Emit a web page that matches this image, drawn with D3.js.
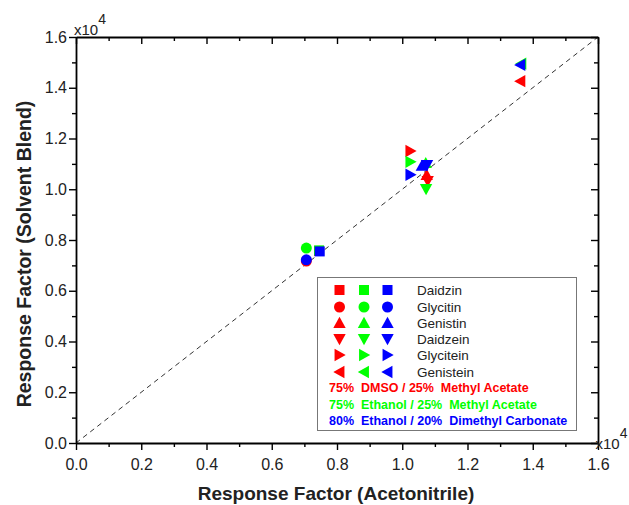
<!DOCTYPE html>
<html><head><meta charset="utf-8">
<script src="https://cdn.jsdelivr.net/npm/d3@7"></script>
<style>body{margin:0;background:#fff}svg{font-family:"Liberation Sans",Arial,sans-serif}</style>
</head><body><svg id="c" width="629" height="505"></svg>
<script>
const compounds = ["Daidzin","Glycitin","Genistin","Daidzein","Glycitein","Genistein"];
const symbols = ["square","circle","up","down","right","left"];
const solvents = ["75%  DMSO / 25%  Methyl Acetate","75%  Ethanol / 25%  Methyl Acetate","80%  Ethanol / 20%  Dimethyl Carbonate"];
const colors = ["#ff0000","#00ff00","#0000ff"];
// values in units of 1e4: [x (acetonitrile), y (solvent blend)] per compound
const redX = [0.745, 0.706, 1.075, 1.078, 1.025, 1.362];
const redY = [0.757, 0.717, 1.056, 1.033, 1.151, 1.426];
const greenX = [0.745, 0.706, 1.072, 1.073, 1.025, 1.365];
const greenY = [0.759, 0.768, 1.103, 1.001, 1.108, 1.495];
const blueX = [0.747, 0.706, 1.060, 1.076, 1.025, 1.362];
const blueY = [0.755, 0.722, 1.092, 1.096, 1.057, 1.490];
const ticks = [0,0.2,0.4,0.6,0.8,1.0,1.2,1.4,1.6];
const minorTicks = [0.1,0.3,0.5,0.7,0.9,1.1,1.3,1.5];

const svg = d3.select("#c");
const L=76,R=598,T=37,B=443;
const x = d3.scaleLinear().domain([0,1.6]).range([L,R]);
const y = d3.scaleLinear().domain([0,1.6]).range([B,T]);
const fmt = d3.format(".1f");
const FF = "Liberation Sans, Arial, sans-serif";

// diagonal
svg.append("line").attr("x1",x(0)).attr("y1",y(0)).attr("x2",x(1.6)).attr("y2",y(1.6))
  .attr("stroke","#333").attr("stroke-width",1).attr("stroke-dasharray","5,4");

function marker(g, sym, cx, cy, col){
  const s=6.2;
  let el;
  if(sym==="square") el=g.append("rect").attr("x",cx-5).attr("y",cy-5).attr("width",10).attr("height",10);
  else if(sym==="circle") el=g.append("circle").attr("cx",cx).attr("cy",cy).attr("r",5.5);
  else {
    let pts;
    if(sym==="up") pts=[[cx,cy-s],[cx-s,cy+s*0.8],[cx+s,cy+s*0.8]];
    if(sym==="down") pts=[[cx,cy+s],[cx-s,cy-s*0.8],[cx+s,cy-s*0.8]];
    if(sym==="right") pts=[[cx+s,cy],[cx-s*0.8,cy-s],[cx-s*0.8,cy+s]];
    if(sym==="left") pts=[[cx-s,cy],[cx+s*0.8,cy-s],[cx+s*0.8,cy+s]];
    el=g.append("polygon").attr("points",pts.map(p=>p.join(",")).join(" "));
  }
  el.attr("fill",col);
}
const series=[[redX,redY],[greenX,greenY],[blueX,blueY]];
const gm=svg.append("g");
series.forEach((s,si)=>{
  s[0].forEach((v,i)=>marker(gm,symbols[i],x(v),y(s[1][i]),colors[si]));
});

// axes
const gxb=svg.append("g").attr("transform",`translate(0,${B})`).call(d3.axisBottom(x).tickValues(ticks).tickFormat(fmt).tickSize(7).tickSizeOuter(0));
svg.append("g").attr("transform",`translate(0,${B})`).call(d3.axisBottom(x).tickValues(minorTicks).tickFormat("").tickSize(4)).select(".domain").remove();
svg.append("g").attr("transform",`translate(0,${T})`).call(d3.axisBottom(x).tickValues(ticks).tickFormat("").tickSize(7).tickSizeOuter(0));
svg.append("g").attr("transform",`translate(0,${T})`).call(d3.axisBottom(x).tickValues(minorTicks).tickFormat("").tickSize(4)).select(".domain").remove();
const gyl=svg.append("g").attr("transform",`translate(${L},0)`).call(d3.axisLeft(y).tickValues(ticks).tickFormat(fmt).tickSize(7).tickSizeOuter(0));
svg.append("g").attr("transform",`translate(${L},0)`).call(d3.axisLeft(y).tickValues(minorTicks).tickFormat("").tickSize(4)).select(".domain").remove();
svg.append("g").attr("transform",`translate(${R},0)`).call(d3.axisLeft(y).tickValues(ticks).tickFormat("").tickSize(7).tickSizeOuter(0));
svg.append("g").attr("transform",`translate(${R},0)`).call(d3.axisLeft(y).tickValues(minorTicks).tickFormat("").tickSize(4)).select(".domain").remove();
svg.selectAll(".domain").attr("stroke","#000").attr("stroke-width",1.8);
svg.selectAll(".tick line").attr("stroke","#000").attr("stroke-width",1.4);
gxb.selectAll("text").attr("font-size",16).attr("font-family",FF).attr("fill","#222").attr("y",12).attr("dy","0.95em");
gyl.selectAll("text").attr("font-size",16).attr("font-family",FF).attr("fill","#222").attr("x",-9);

// exponent labels
function expo(px,py){
  const t=svg.append("text").attr("x",px).attr("y",py).attr("font-size",15).attr("font-family",FF).attr("fill","#222");
  t.append("tspan").text("x10");
  t.append("tspan").attr("dy",-11).attr("font-size",14).text("4");
}
expo(74,35);
expo(595.5,449);

// titles
svg.append("text").attr("x",336).attr("y",500).attr("text-anchor","middle").attr("font-size",19).attr("font-family",FF).attr("font-weight","bold").attr("fill","#222").text("Response Factor (Acetonitrile)");
svg.append("text").attr("transform","translate(31,254) rotate(-90)").attr("text-anchor","middle").attr("font-size",19.5).attr("font-family",FF).attr("font-weight","bold").attr("fill","#222").text("Response Factor (Solvent Blend)");

// legend
const lg=svg.append("g");
lg.append("rect").attr("x",317.5).attr("y",277.5).attr("width",259).attr("height",153).attr("fill","#fff").attr("stroke","#777").attr("stroke-width",1);
const colX=[339.5,364,387.5];
const rowY=[290,307,323,339,355,372];
compounds.forEach((c,i)=>{
  colX.forEach((cx,si)=>marker(lg,symbols[i],cx,rowY[i],colors[si]));
  lg.append("text").attr("x",417).attr("y",rowY[i]).attr("dy","0.36em").attr("font-size",13.5).attr("font-family",FF).attr("fill","#222").text(c);
});
const textY=[387.5,404,420.5];
solvents.forEach((s,i)=>{
  lg.append("text").attr("x",329).attr("y",textY[i]).attr("dy","0.36em").attr("font-size",12.5).attr("font-family",FF).attr("font-weight","bold").attr("fill",colors[i]).attr("xml:space","preserve").style("white-space","pre").text(s);
});
</script></body></html>
